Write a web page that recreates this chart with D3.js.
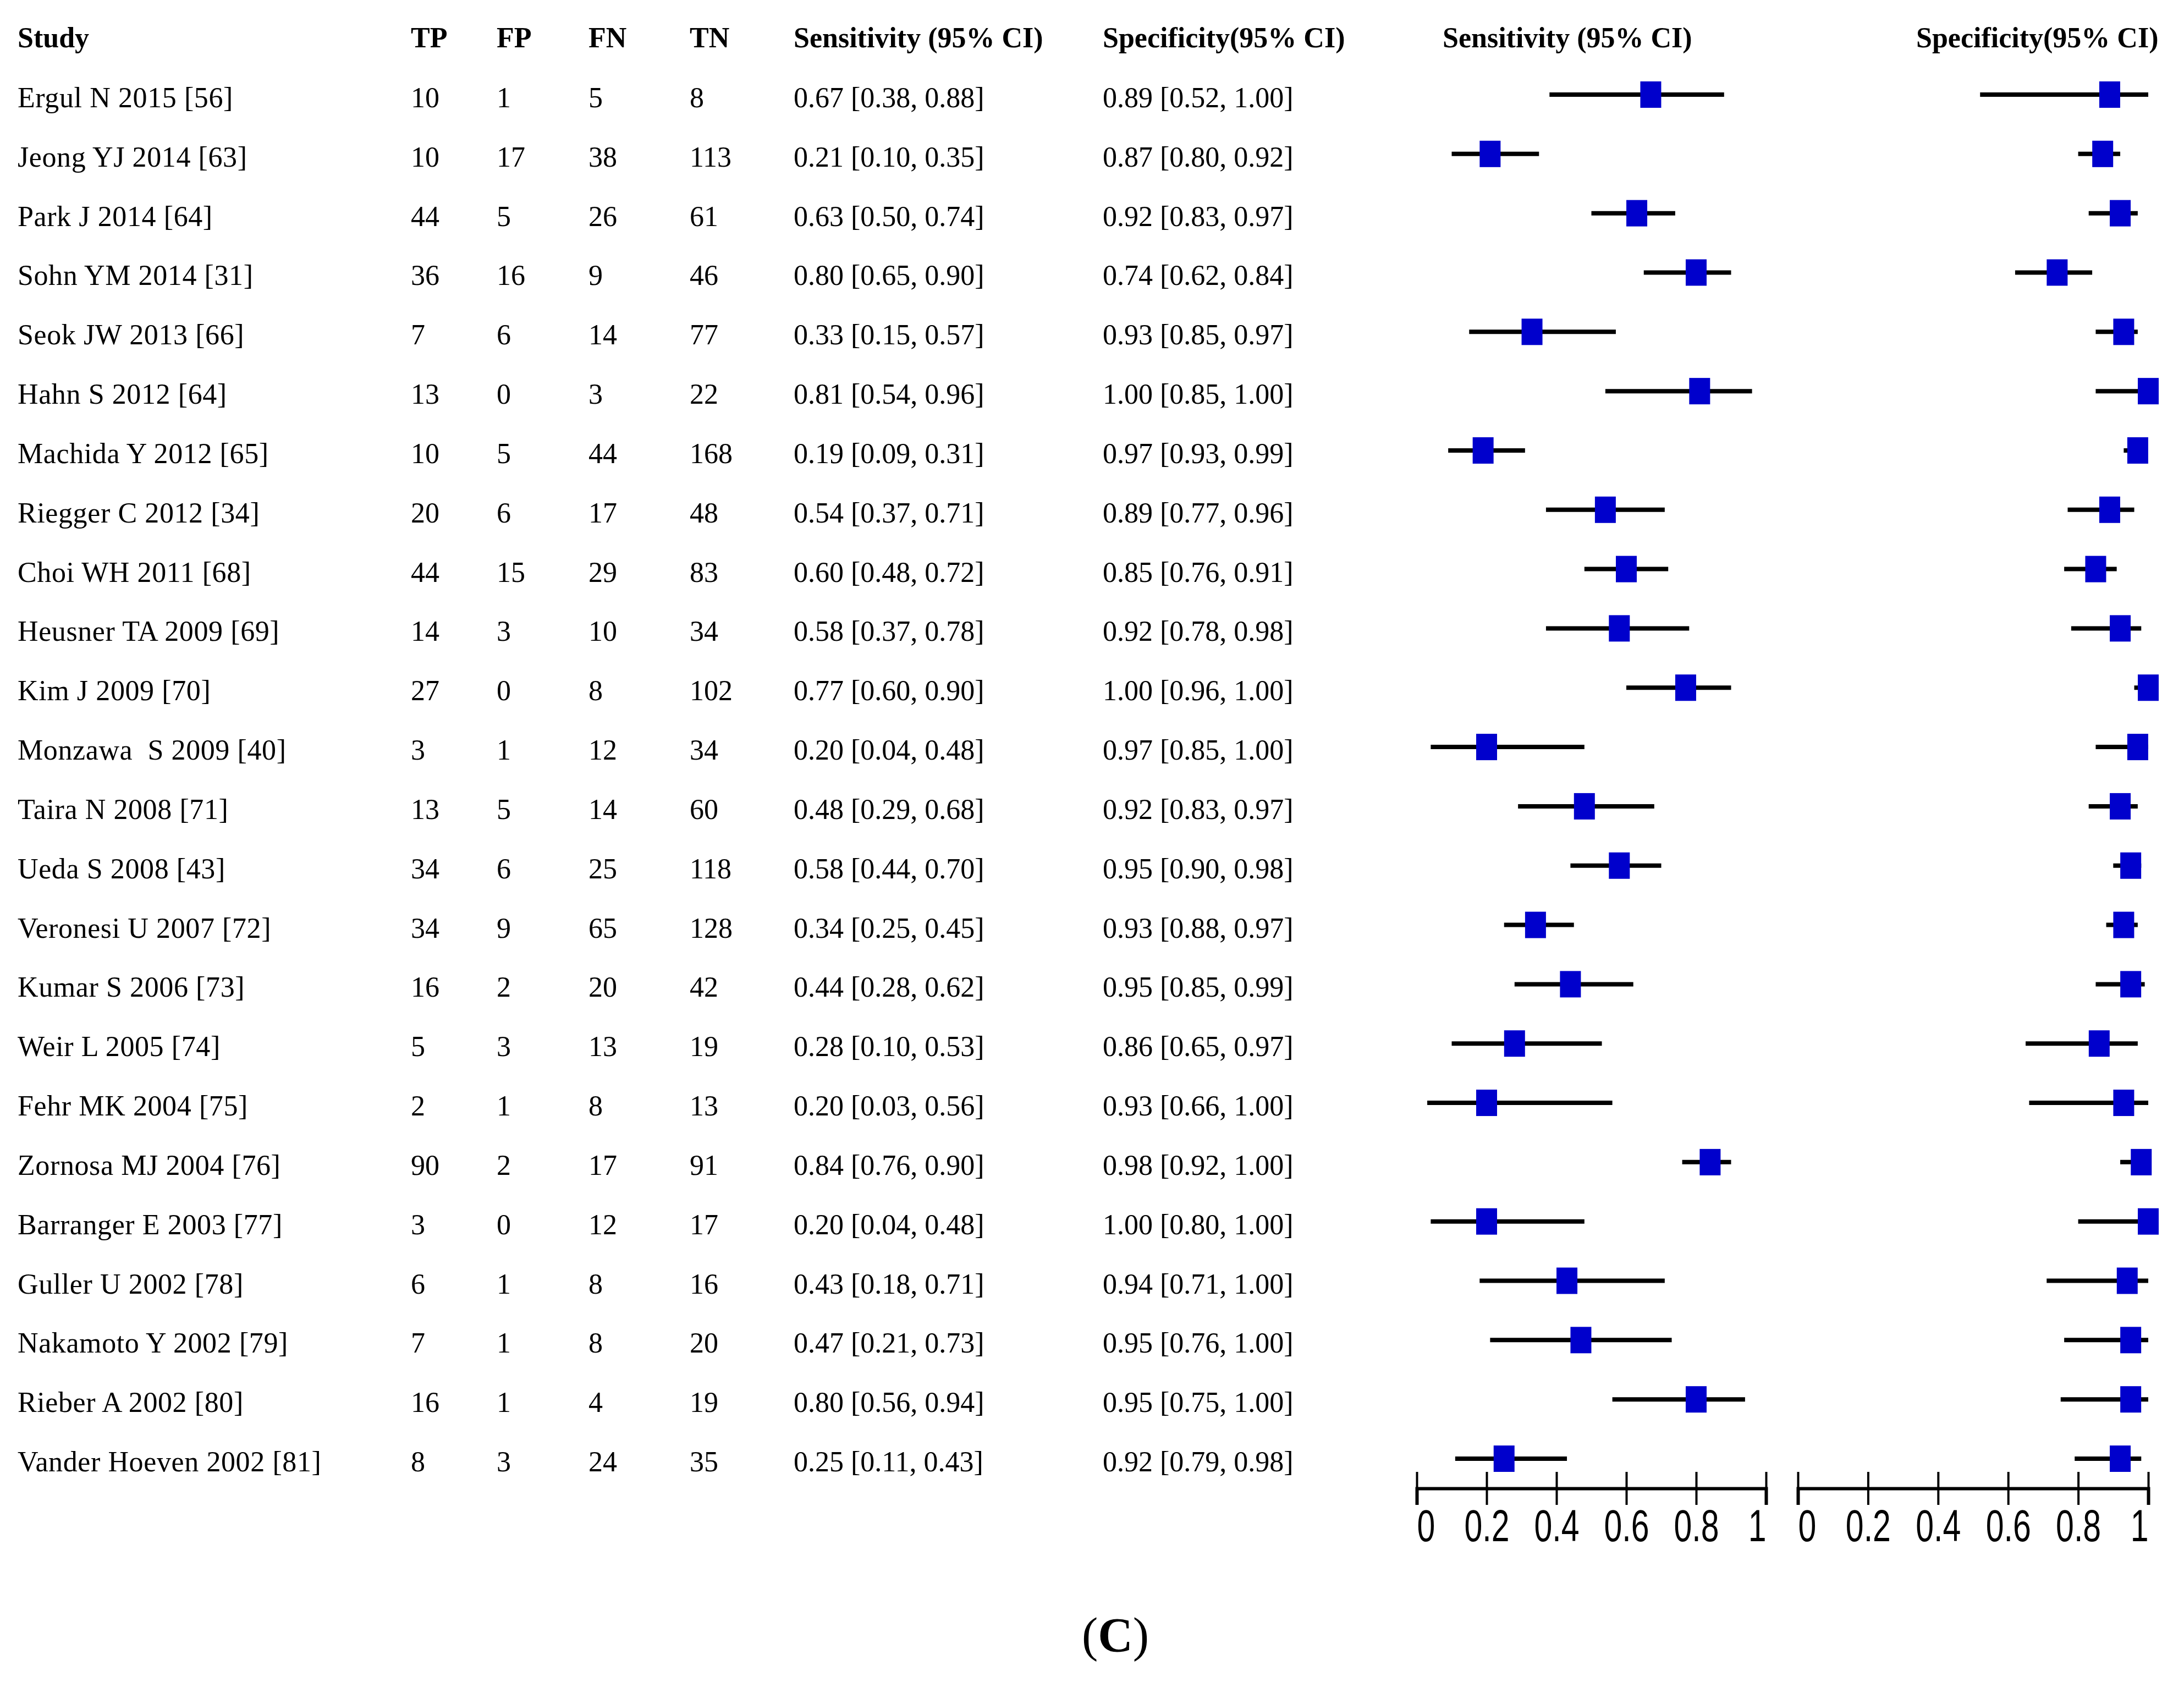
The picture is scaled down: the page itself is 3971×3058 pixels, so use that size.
<!DOCTYPE html>
<html>
<head>
<meta charset="utf-8">
<script src="https://cdn.jsdelivr.net/npm/d3@7"></script>
<style>
  body { margin: 0; background: #fff; }
  text { font-family: "Liberation Serif", "Times New Roman", serif; fill: #000; white-space: pre; }
  .head { font-weight: bold; }
  .axis text { font-family: "Liberation Sans", Arial, sans-serif; }
</style>
</head>
<body>
<svg id="chart"></svg>
<script>
// study table
var studies = ["Ergul N 2015 [56]", "Jeong YJ 2014 [63]", "Park J 2014 [64]", "Sohn YM 2014 [31]",
  "Seok JW 2013 [66]", "Hahn S 2012 [64]", "Machida Y 2012 [65]", "Riegger C 2012 [34]",
  "Choi WH 2011 [68]", "Heusner TA 2009 [69]", "Kim J 2009 [70]", "Monzawa  S 2009 [40]",
  "Taira N 2008 [71]", "Ueda S 2008 [43]", "Veronesi U 2007 [72]", "Kumar S 2006 [73]",
  "Weir L 2005 [74]", "Fehr MK 2004 [75]", "Zornosa MJ 2004 [76]", "Barranger E 2003 [77]",
  "Guller U 2002 [78]", "Nakamoto Y 2002 [79]", "Rieber A 2002 [80]", "Vander Hoeven 2002 [81]"];
var tp = [10, 10, 44, 36, 7, 13, 10, 20, 44, 14, 27, 3, 13, 34, 34, 16, 5, 2, 90, 3, 6, 7, 16, 8];
var fp = [1, 17, 5, 16, 6, 0, 5, 6, 15, 3, 0, 1, 5, 6, 9, 2, 3, 1, 2, 0, 1, 1, 1, 3];
var fn = [5, 38, 26, 9, 14, 3, 44, 17, 29, 10, 8, 12, 14, 25, 65, 20, 13, 8, 17, 12, 8, 8, 4, 24];
var tn = [8, 113, 61, 46, 77, 22, 168, 48, 83, 34, 102, 34, 60, 118, 128, 42, 19, 13, 91, 17, 16, 20, 19, 35];

var sens   = [0.67, 0.21, 0.63, 0.80, 0.33, 0.81, 0.19, 0.54, 0.60, 0.58, 0.77, 0.20, 0.48, 0.58, 0.34, 0.44, 0.28, 0.20, 0.84, 0.20, 0.43, 0.47, 0.80, 0.25];
var sensLo = [0.38, 0.10, 0.50, 0.65, 0.15, 0.54, 0.09, 0.37, 0.48, 0.37, 0.60, 0.04, 0.29, 0.44, 0.25, 0.28, 0.10, 0.03, 0.76, 0.04, 0.18, 0.21, 0.56, 0.11];
var sensHi = [0.88, 0.35, 0.74, 0.90, 0.57, 0.96, 0.31, 0.71, 0.72, 0.78, 0.90, 0.48, 0.68, 0.70, 0.45, 0.62, 0.53, 0.56, 0.90, 0.48, 0.71, 0.73, 0.94, 0.43];

var spec   = [0.89, 0.87, 0.92, 0.74, 0.93, 1.00, 0.97, 0.89, 0.85, 0.92, 1.00, 0.97, 0.92, 0.95, 0.93, 0.95, 0.86, 0.93, 0.98, 1.00, 0.94, 0.95, 0.95, 0.92];
var specLo = [0.52, 0.80, 0.83, 0.62, 0.85, 0.85, 0.93, 0.77, 0.76, 0.78, 0.96, 0.85, 0.83, 0.90, 0.88, 0.85, 0.65, 0.66, 0.92, 0.80, 0.71, 0.76, 0.75, 0.79];
var specHi = [1.00, 0.92, 0.97, 0.84, 0.97, 1.00, 0.99, 0.96, 0.91, 0.98, 1.00, 1.00, 0.97, 0.98, 0.97, 0.99, 0.97, 1.00, 1.00, 1.00, 1.00, 1.00, 1.00, 0.98];

var axisTicks = [0, 0.2, 0.4, 0.6, 0.8, 1];

var width = 3971, height = 3058;

var svg = d3.select("#chart")
    .attr("width", width)
    .attr("height", height);

svg.append("rect").attr("width", width).attr("height", height).attr("fill", "#fff");

var rows = studies.map(function(s, i) {
  return { name: s, tp: tp[i], fp: fp[i], fn: fn[i], tn: tn[i],
    se: sens[i], seLo: sensLo[i], seHi: sensHi[i],
    sp: spec[i], spLo: specLo[i], spHi: specHi[i] };
});

var y = d3.scalePoint()
    .domain(studies)
    .range([172, 2652]);

var xSens = d3.scaleLinear().domain([0, 1]).range([2576, 3211]);
var xSpec = d3.scaleLinear().domain([0, 1]).range([3269, 3906]);

var f2 = d3.format(".2f");
function ci(v, lo, hi) { return f2(v) + " [" + f2(lo) + ", " + f2(hi) + "]"; }

// table columns
var cols = [
  { head: "Study", x: 32, val: function(d) { return d.name; } },
  { head: "TP", x: 747, val: function(d) { return d.tp; } },
  { head: "FP", x: 903, val: function(d) { return d.fp; } },
  { head: "FN", x: 1070, val: function(d) { return d.fn; } },
  { head: "TN", x: 1254, val: function(d) { return d.tn; } },
  { head: "Sensitivity (95% CI)", x: 1443, val: function(d) { return ci(d.se, d.seLo, d.seHi); } },
  { head: "Specificity(95% CI)", x: 2005, val: function(d) { return ci(d.sp, d.spLo, d.spHi); } }
];

var fs = 52;

svg.selectAll("text.head")
    .data(cols.concat([{ head: "Sensitivity (95% CI)", x: 2623 }, { head: "Specificity(95% CI)", x: 3484 }]))
  .enter().append("text")
    .attr("class", "head")
    .attr("x", function(d) { return d.x; })
    .attr("y", 86)
    .style("font-size", fs + "px")
    .text(function(d) { return d.head; });

cols.forEach(function(c, ci) {
  svg.append("g").selectAll("text")
      .data(rows)
    .enter().append("text")
      .attr("x", c.x)
      .attr("y", function(d) { return y(d.name) + 23; })
      .style("font-size", fs + "px")
      .style("letter-spacing", ci === 0 ? "0.6px" : null)
      .text(c.val);
});

// forest plots
function forest(x, key, lo, hi) {
  var g = svg.append("g");

  g.selectAll("line")
      .data(rows)
    .enter().append("line")
      .attr("x1", function(d) { return x(d[lo]); })
      .attr("x2", function(d) { return x(d[hi]); })
      .attr("y1", function(d) { return y(d.name); })
      .attr("y2", function(d) { return y(d.name); })
      .attr("stroke", "#000")
      .attr("stroke-width", 8);

  g.selectAll("rect")
      .data(rows)
    .enter().append("rect")
      .attr("x", function(d) { return x(d[key]) - 19; })
      .attr("y", function(d) { return y(d.name) - 24; })
      .attr("width", 38)
      .attr("height", 48)
      .attr("fill", "#0000cc");

  var xAxis = d3.axisBottom(x)
      .tickValues(axisTicks)
      .tickFormat(function(d) { return String(d); })
      .tickSizeOuter(0)
      .tickSize(30)
      .tickPadding(8);

  var ax = svg.append("g")
      .attr("class", "axis")
      .attr("transform", "translate(0,2706)")
      .call(xAxis);

  ax.select(".domain").attr("stroke", "#000").attr("stroke-width", 6);
  ax.selectAll(".tick line").attr("y1", -30).attr("y2", 30).attr("stroke", "#000").attr("stroke-width", 4);
  // narrow tall digits like the original
  ax.selectAll(".tick text")
      .attr("fill", "#000")
      .style("font-size", "82px")
      .attr("transform", "scale(0.72,1)")
      .attr("text-anchor", function(d, i) { return i === 0 ? "start" : (i === axisTicks.length - 1 ? "end" : "middle"); });
}

forest(xSens, "se", "seLo", "seHi");
forest(xSpec, "sp", "spLo", "spHi");

// panel label
var cap = svg.append("text")
    .attr("x", 2028)
    .attr("y", 3002)
    .attr("text-anchor", "middle")
    .style("font-size", "88px");
cap.append("tspan").text("(");
cap.append("tspan").style("font-weight", "bold").text("C");
cap.append("tspan").text(")");
</script>
</body>
</html>
